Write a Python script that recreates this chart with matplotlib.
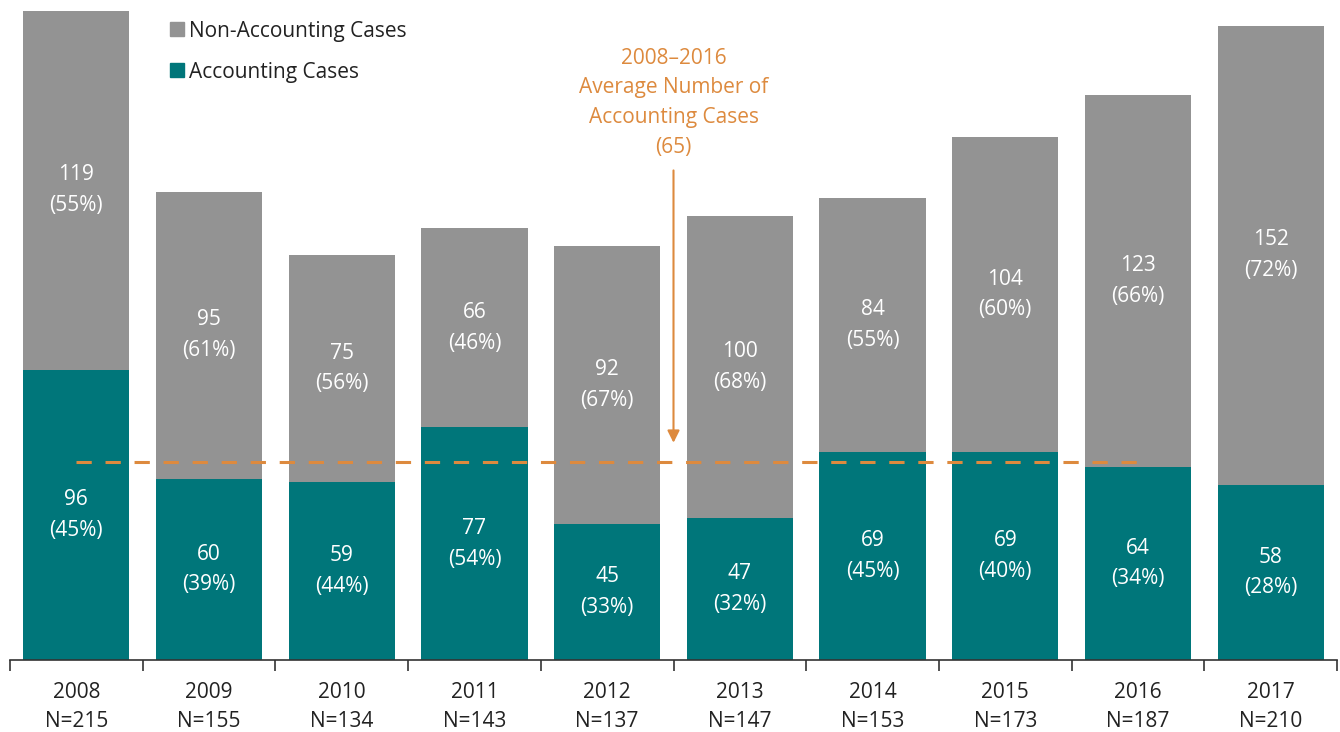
import matplotlib
matplotlib.use("Agg")
import matplotlib.pyplot as plt
from matplotlib.lines import Line2D
import numpy as np

years = ["2008", "2009", "2010", "2011", "2012", "2013", "2014", "2015", "2016", "2017"]
accounting = [96, 60, 59, 77, 45, 47, 69, 69, 64, 58]
non_accounting = [119, 95, 75, 66, 92, 100, 84, 104, 123, 152]
acc_pct = [45, 39, 44, 54, 33, 32, 45, 40, 34, 28]
non_pct = [55, 61, 56, 46, 67, 68, 55, 60, 66, 72]
avg_value = 65

TEAL = "#00767A"
GRAY = "#939393"
ORANGE = "#DD8A3E"
TXT = "#222222"

plt.rcParams['font.family'] = ['Open Sans', 'DejaVu Sans']

fig = plt.figure(figsize=(13.4, 7.32), dpi=100)
ax = fig.add_axes([10/1340, 72/732, 1327/1340, 660/732])

x = np.arange(len(years))
totals = [a + b for a, b in zip(accounting, non_accounting)]
ax.bar(x, accounting, width=0.8, color=TEAL, zorder=2)
ax.bar(x, non_accounting, width=0.8, bottom=accounting, color=GRAY, zorder=2)

for i in range(len(years)):
    ax.text(x[i], accounting[i] / 2, f"{accounting[i]}\n({acc_pct[i]}%)", ha="center", va="center",
            color="white", fontsize=15, linespacing=1.6, zorder=4)
    ax.text(x[i], accounting[i] + non_accounting[i] / 2, f"{non_accounting[i]}\n({non_pct[i]}%)",
            ha="center", va="center", color="white", fontsize=15, linespacing=1.6, zorder=4)

# average line
ax.plot([0, 8.05], [avg_value + 0.5, avg_value + 0.5], color=ORANGE, lw=2.2, dashes=(5, 4.5), zorder=3)
ax.annotate("", xy=(4.5, 71), xytext=(4.5, 163),
            arrowprops=dict(arrowstyle="-|>", color=ORANGE, lw=1.5, mutation_scale=18), zorder=3)
ax.text(4.5, 184.5, "2008–2016\nAverage Number of\nAccounting Cases\n(65)", ha="center", va="center",
        color=ORANGE, fontsize=15, linespacing=1.55)

ax.set_xlim(-0.5, len(years) - 0.5)
ax.set_ylim(0, 218.5)
ax.set_yticks([])
for s in ["top", "right", "left"]:
    ax.spines[s].set_visible(False)
ax.spines["bottom"].set_color("#333333")
ax.spines["bottom"].set_linewidth(1.2)
ax.set_xticks(x)
ax.set_xticklabels([f"{y}\nN={t}" for y, t in zip(years, totals)], fontsize=15, color=TXT, linespacing=1.5)
ax.tick_params(axis="x", which="major", length=0, pad=16)
ax.set_xticks(np.arange(-0.5, len(years)), minor=True)
ax.tick_params(axis="x", which="minor", length=8, width=1.2, color="#333333")

handles = [Line2D([], [], marker="s", ls="none", color=GRAY, markersize=10),
           Line2D([], [], marker="s", ls="none", color=TEAL, markersize=10)]
fig.legend(handles, ["Non-Accounting Cases", "Accounting Cases"], loc="upper left",
           bbox_to_anchor=(148/1340, 1 - 2/732), frameon=False, fontsize=15,
           handletextpad=0.05, labelspacing=0.95, handlelength=1.0, labelcolor=TXT)

fig.savefig("out.png", dpi=100)
